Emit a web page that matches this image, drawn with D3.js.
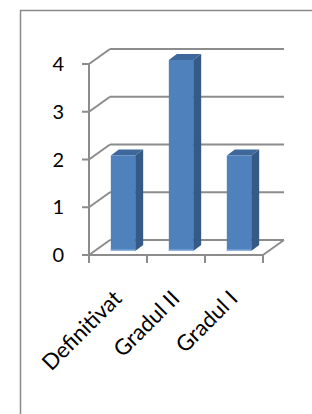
<!DOCTYPE html>
<html>
<head>
<meta charset="utf-8">
<script src="https://cdn.jsdelivr.net/npm/d3@7"></script>
<style>
  html, body { margin: 0; padding: 0; background: #fff; }
  svg { display: block; }
</style>
</head>
<body>
<svg id="chart" width="312" height="414"></svg>
<script>
// data
const categories = ['Definitivat', 'Gradul II', 'Gradul I'];
const values = [2, 4, 2];
const yTicks = [0, 1, 2, 3, 4];

const svg = d3.select('#chart');
const font = 'Lato, Calibri, "Open Sans", sans-serif';
const gridColor = '#8c8c8c';

// outer frame (only left + top visible)
svg.append('path')
  .attr('d', 'M20.5,414 L20.5,10.5 L312,10.5')
  .attr('fill', 'none')
  .attr('stroke', '#8a8a8a')
  .attr('stroke-width', 1.5);

// scales - front plane
const x = d3.scaleBand().domain(categories).range([89, 263]);
const y = d3.scaleLinear().domain([0, 4]).range([255, 64]);

// depth of the 3d box
const depth = { dx: 21, dy: -15 };
const backRight = 284;

const g = svg.append('g');

// back wall gridlines
g.selectAll('.grid')
  .data(yTicks)
  .enter().append('line')
    .attr('x1', x.range()[0] + depth.dx).attr('x2', backRight)
    .attr('y1', d => y(d) + depth.dy).attr('y2', d => y(d) + depth.dy)
    .attr('stroke', gridColor).attr('stroke-width', 2);

// left wall diagonals
g.selectAll('.diag')
  .data(yTicks)
  .enter().append('line')
    .attr('x1', x.range()[0]).attr('x2', x.range()[0] + depth.dx)
    .attr('y1', d => y(d)).attr('y2', d => y(d) + depth.dy)
    .attr('stroke', gridColor).attr('stroke-width', 2);

// y axis line + small ticks
g.append('line')
  .attr('x1', x.range()[0]).attr('x2', x.range()[0])
  .attr('y1', y(0)).attr('y2', y(4))
  .attr('stroke', gridColor).attr('stroke-width', 2);

g.selectAll('.ytick')
  .data(yTicks)
  .enter().append('line')
    .attr('x1', x.range()[0] - 7).attr('x2', x.range()[0])
    .attr('y1', d => y(d)).attr('y2', d => y(d))
    .attr('stroke', gridColor).attr('stroke-width', 2);

// floor: front edge + right edge
g.append('line')
  .attr('x1', x.range()[0]).attr('x2', x.range()[1])
  .attr('y1', y(0)).attr('y2', y(0))
  .attr('stroke', gridColor).attr('stroke-width', 2);
g.append('line')
  .attr('x1', x.range()[1]).attr('x2', backRight)
  .attr('y1', y(0)).attr('y2', y(0) + depth.dy)
  .attr('stroke', gridColor).attr('stroke-width', 2);

// x ticks at band edges
const edges = categories.map(c => x(c)).concat([x.range()[1]]);
g.selectAll('.xtick')
  .data(edges)
  .enter().append('line')
    .attr('x1', d => d).attr('x2', d => d)
    .attr('y1', y(0)).attr('y2', y(0) + 8)
    .attr('stroke', gridColor).attr('stroke-width', 2);

// y labels
g.selectAll('.ylabel')
  .data(yTicks)
  .enter().append('text')
    .attr('x', 64)
    .attr('y', d => y(d) + 7)
    .attr('text-anchor', 'end')
    .attr('font-family', font)
    .attr('font-size', 20)
    .attr('fill', '#000')
    .text(d => d);

// bars (3d boxes)
const barW = x.bandwidth() * 0.42;
const barOff = { dx: 5, dy: -4 };   // bar sits a bit back from the front plane
const barD = { dx: 8, dy: -6 };     // bar own depth

const bars = g.selectAll('.bar')
  .data(categories.map((c, i) => ({ c, v: values[i] })))
  .enter().append('g');

bars.each(function(d) {
  const sel = d3.select(this);
  const x0 = x(d.c) + x.bandwidth() / 2 - barW / 2 + barOff.dx;
  const x1 = x0 + barW;
  const yb = y(0) + barOff.dy;
  const yt = y(d.v) + barOff.dy;

  // side
  sel.append('path')
    .attr('d', `M${x1},${yt} L${x1 + barD.dx},${yt + barD.dy} L${x1 + barD.dx},${yb + barD.dy} L${x1},${yb} Z`)
    .attr('fill', '#365A86');
  // top
  sel.append('path')
    .attr('d', `M${x0},${yt} L${x0 + barD.dx},${yt + barD.dy} L${x1 + barD.dx},${yt + barD.dy} L${x1},${yt} Z`)
    .attr('fill', '#3E679B');
  // front
  sel.append('rect')
    .attr('x', x0).attr('y', yt)
    .attr('width', barW).attr('height', yb - yt)
    .attr('fill', '#4F81BD');
  // light base strip
  sel.append('rect')
    .attr('x', x0).attr('y', yb - 1.5)
    .attr('width', barW).attr('height', 1.5)
    .attr('fill', '#8FB3E0');
});

// x labels rotated
g.selectAll('.xlabel')
  .data(categories)
  .enter().append('text')
    .attr('transform', d => `translate(${x(d) + x.bandwidth() / 2 + 5},${y(0) + 45}) rotate(-45)`)
    .attr('text-anchor', 'end')
    .attr('font-family', font)
    .attr('font-size', 22)
    .attr('fill', '#000')
    .text(d => d);
</script>
</body>
</html>
